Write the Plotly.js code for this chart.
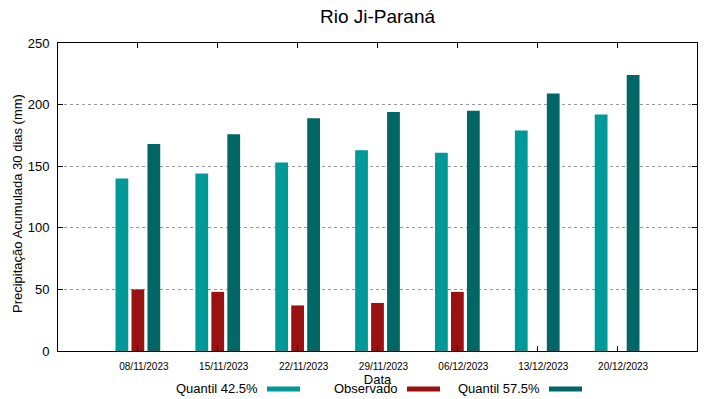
<!DOCTYPE html>
<html>
<head>
<meta charset="utf-8">
<script src="https://cdn.plot.ly/plotly-3.0.1.min.js"></script>
<style>html,body{margin:0;padding:0;background:#fff;}#chart{width:719px;height:399px;}</style>
</head>
<body>
<div id="chart"></div>
<script>
const dates = ["08/11/2023","15/11/2023","22/11/2023","29/11/2023","06/12/2023","13/12/2023","20/12/2023"];
const q425 = [140, 144, 153, 163, 161, 179, 192];
const observado = [50, 48, 37, 39, 48, null, null];
const q575 = [168, 176, 189, 194, 195, 209, 224];
const seriesNames = ["Quantil 42.5%", "Observado", "Quantil 57.5%"];
const colors = ["#009999", "#991111", "#006666"];
const yTicks = [0, 50, 100, 150, 200, 250];

const font = "Liberation Sans, Arial, sans-serif";
const traces = [q425, observado, q575].map((vals, i) => ({
  type: "bar",
  x: dates,
  y: vals,
  name: seriesNames[i],
  marker: {color: colors[i], line: {width: 0}},
  showlegend: false,
  hoverinfo: "x+y+name"
}));

const W = 719, H = 399;
const L = 58, R = 697, T = 43, B = 351;
const px = x => (x - L) / (R - L);
const py = y => (B - y) / (B - T);

// legend drawn gnuplot-style: text then sample line
const legendText = [{x: 260, name: seriesNames[0]}, {x: 400, name: seriesNames[1]}, {x: 542, name: seriesNames[2]}];
const annotations = legendText.map(l => ({
  xref: "paper", yref: "paper",
  x: px(l.x), y: py(388),
  xanchor: "right", yanchor: "middle",
  text: l.name, showarrow: false,
  font: {family: font, size: 13, color: "#000"}
}));
annotations.push({
  xref: "paper", yref: "paper",
  x: px(17), y: py(204), xanchor: "center", yanchor: "middle",
  textangle: -90, showarrow: false,
  text: "Precipitação Acumulada 30 dias (mm)",
  font: {family: font, size: 13, color: "#000"}
});
const shapes = legendText.map((l, i) => ({
  type: "line", xref: "paper", yref: "paper",
  x0: px(l.x + 7), x1: px(l.x + 40),
  y0: py(389), y1: py(389),
  line: {color: colors[i], width: 5}
}));

const layout = {
  width: W, height: H,
  margin: {l: L, r: W - R, t: T, b: H - B},
  paper_bgcolor: "#fff", plot_bgcolor: "#fff",
  font: {family: font, color: "#000"},
  title: {text: "Rio Ji-Paraná", x: 0.5, xref: "paper", y: 1 - 16 / H, yanchor: "middle",
          font: {family: font, size: 19, color: "#000"}},
  barmode: "group", bargap: 0.4, bargroupgap: 0.2,
  xaxis: {
    type: "category", range: [-1, 7],
    showline: true, linecolor: "#000", linewidth: 1, mirror: "ticks",
    ticks: "inside", ticklen: 5, tickcolor: "#000",
    showgrid: false, zeroline: false,
    tickfont: {family: font, size: 10, color: "#000"},
    ticklabelshift: 6, ticklabelstandoff: 6,
    title: {text: "Data", standoff: 3, font: {family: font, size: 13, color: "#000"}},
    automargin: false, fixedrange: true
  },
  yaxis: {
    range: [0, 250], tickvals: yTicks,
    showline: true, linecolor: "#000", linewidth: 1, mirror: "ticks",
    ticks: "inside", ticklen: 5, tickcolor: "#000",
    showgrid: true, gridcolor: "#999", griddash: "dot", gridwidth: 1,
    zeroline: false,
    tickfont: {family: font, size: 13, color: "#000"},
    ticklabelstandoff: 5,
    automargin: false, fixedrange: true
  },
  annotations: annotations,
  shapes: shapes
};

Plotly.newPlot("chart", traces, layout, {displayModeBar: false, staticPlot: true});
</script>
</body>
</html>
